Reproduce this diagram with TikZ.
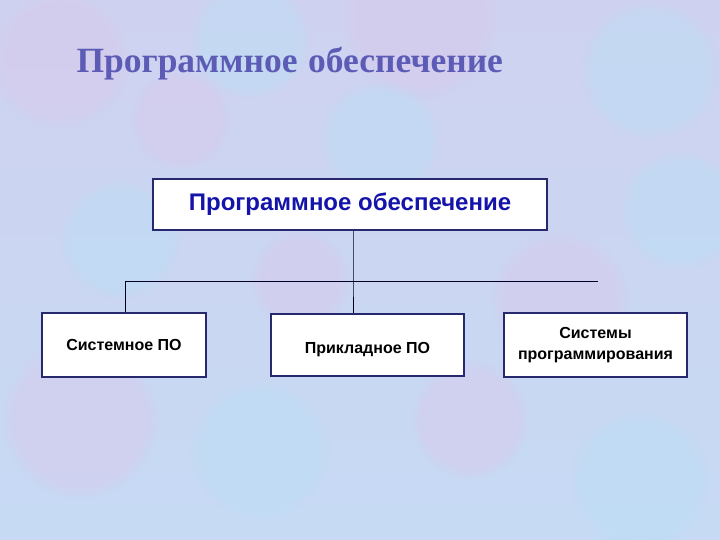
\documentclass[tikz,border=0pt]{standalone}
\usepackage{fontspec}
\usetikzlibrary{fadings}
\setmainfont{Liberation Serif}
\newfontfamily\arialf{Liberation Sans}
\definecolor{bgA}{RGB}{198,218,244}
\definecolor{bgB}{RGB}{206,210,240}
\definecolor{blobP}{RGB}{220,198,234}
\definecolor{blobC}{RGB}{184,224,246}
\definecolor{titlecol}{RGB}{92,92,182}
\definecolor{boxline}{RGB}{40,40,110}
\definecolor{toptext}{RGB}{20,20,170}
\begin{document}
\begin{tikzpicture}[x=1pt,y=1pt,
  box/.style={draw=boxline,line width=2pt,fill=white,inner sep=0pt,align=center},
  conn/.style={draw=black!85!blue,line width=0.8pt}]
\useasboundingbox (0,0) rectangle (720,540);
\shade[bottom color=bgA,top color=bgB] (0,0) rectangle (720,540);
% soft texture blobs
\foreach \x/\y/\r/\c in {60/480/70/blobP,250/500/60/blobC,420/520/80/blobP,650/470/70/blobC,
  120/300/60/blobC,300/260/50/blobP,560/240/70/blobP,680/330/60/blobC,80/120/80/blobP,
  260/90/70/blobC,470/120/60/blobP,640/60/70/blobC,380/400/60/blobC,180/420/50/blobP}{
  \fill[\c,path fading=circle with fuzzy edge 20 percent,fill opacity=0.4] (\x,\y) circle (\r);}
\node[font=\bfseries\fontsize{35.5}{40}\selectfont,text=titlecol,anchor=base west] (title) at (73,467) {Программное\hspace{0.3em}обеспечение};
\node[box,minimum width=394,minimum height=51,font=\arialf\bfseries\fontsize{24}{28}\selectfont,text=toptext] (top) at (350,335.5) {Программное обеспечение};
\node[box,minimum width=164,minimum height=64,font=\arialf\bfseries\fontsize{16}{21}\selectfont] (sys) at (124,195) {Системное ПО};
\node[box,minimum width=193,minimum height=62,font=\arialf\bfseries\fontsize{16}{21}\selectfont] (app) at (367.5,195) {\raisebox{-3pt}[11pt][0pt]{Прикладное ПО}};
\node[box,minimum width=183,minimum height=64,font=\arialf\bfseries\fontsize{16}{21}\selectfont] (prog) at (595.5,195) {Системы\\программирования};
\coordinate (hl) at (125,259);
\coordinate (hr) at (598,259);
\coordinate (hm) at (353,259);
\draw[conn] (hl) -- (hr);
\draw[conn] (top.south -| hm) -- (hm) -- (app.north -| hm);
\draw[conn] (hl) -- (sys.north -| hl);
\end{tikzpicture}
\end{document}
